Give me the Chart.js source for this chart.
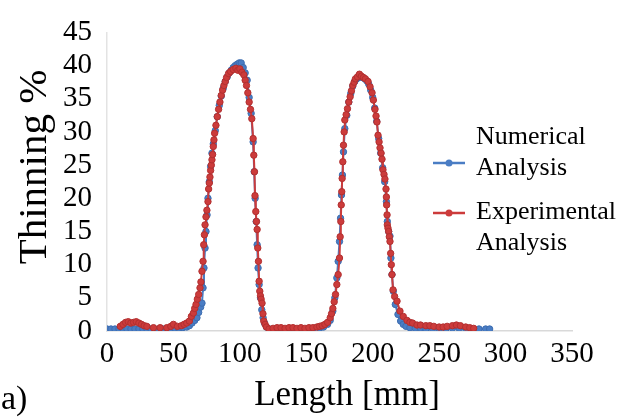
<!DOCTYPE html>
<html>
<head>
<meta charset="utf-8">
<script src="https://cdn.jsdelivr.net/npm/chart.js@4.4.1/dist/chart.umd.min.js"></script>
<style>
  html, body { margin: 0; padding: 0; background: #fff; }
  #wrap { position: relative; width: 618px; height: 418px; }
</style>
</head>
<body>
<div id="wrap"><canvas id="c" width="618" height="418"></canvas></div>
<script>
// Thinning profile along the part length
const numericalX = [0,3,6,9,12,15,18,21,24,27,30,33,36,39,42,45,48,51,54,57,60,62,64,66,67.7,69,70.5,71.5,72.3,73,73.8,74.5,75.3,76,77,78,79,80,81.5,83,84.5,86,87.5,89,90.5,92,93.5,95,96.5,98,99.5,101,102.5,104,105.5,107,108.5,110,110.8,111.5,112.3,113,113.7,114.5,115.5,116.5,117.5,118.5,120,122,125,130,135,140,145,150,155,160,163,166,168,170,171.5,173,174,175,175.8,176.5,177.2,178,179,180.5,182,183.5,185,186.5,188,189.5,191,192.5,194,195.5,197,198.5,200,201.5,203,204.5,206,207.5,209,210.3,211,212,213,213.7,214.5,215.5,217,219,221,223,225,228,232,236,240,245,250,255,260,265,270,275,280,285,288];
const numericalY = [0.3,0.3,0.3,0.3,0.3,0.3,0.3,0.3,0.3,0.3,0.3,0.3,0.3,0.3,0.3,0.3,0.3,0.4,0.4,0.5,0.6,0.8,1.2,1.6,2.0,2.8,3.6,4.2,6.5,9.5,12.5,15.0,17.5,20.0,22.5,24.8,26.8,28.2,30.2,32.3,34.0,35.4,36.6,37.6,38.3,38.9,39.3,39.7,40.0,40.2,40.4,40.4,39.7,38.9,37.8,35.2,32.8,28.5,24.0,20.0,16.5,13.0,9.5,7.0,5.0,3.2,2.0,1.2,0.6,0.3,0.2,0.2,0.2,0.2,0.2,0.2,0.3,0.4,0.6,1.0,1.6,3.0,5.0,8.0,10.5,13.5,17.0,20.5,23.5,27.0,30.5,32.5,34.5,35.8,36.9,37.6,38.0,38.2,38.3,38.2,38.0,37.7,37.2,36.3,35.2,33.6,31.6,29.0,26.8,24.6,22.5,19.5,16.5,15.0,14.3,11.0,8.5,6.0,4.0,2.5,1.5,1.0,0.7,0.5,0.4,0.4,0.3,0.3,0.3,0.3,0.4,0.4,0.3,0.3,0.3,0.3,0.3];

const experimentalX = [10,12,14,16,18,20,22,24,26,28,30,35,40,45,48,50,53,56,58,60,62,63.5,65,66,67,68,69,70,70.7,71.5,72.3,72.8,73.3,73.8,74.5,75.2,76,76.5,77,77.5,78,78.5,79,79.5,80,80.5,81,82,83,84,85,86,87,88,89,90,91.5,93,95,97,98.5,100,101.5,103,104,105,106,107,108,109,110,110.5,111,111.4,112,112.5,113,113.5,114,114.5,115,115.5,116,116.7,117.4,118,119,120,122,125,128,131,134,137,140,143,146,149,152,155,158,160,162,164,166,168,169,170,171,172,173,174,175,175.5,176,176.3,176.7,177,177.5,178,178.5,179,180,181,182,183,184,185,186,187,188.5,190,191.5,193,194.5,196.5,198,199.5,200.5,201.7,202.5,203.2,204,204.8,205.5,206.3,207,207.7,208.5,209.2,210,210.3,210.5,210.8,211,211.5,212,212.5,213,213.5,214,214.5,215.3,216.5,218.3,220.5,223,225.8,228,230,233.3,236,240,243,246,250,253,256,260,263,266,270,273,276];
const experimentalY = [0.7,1.0,1.3,1.4,1.2,1.3,1.4,1.2,1.0,0.8,0.7,0.5,0.5,0.5,0.7,1.0,0.7,0.8,1.0,1.2,1.5,2.2,2.7,3.4,4.0,4.8,5.5,6.5,7.4,9.0,10.5,13.0,14.5,16.0,17.2,18.2,19.5,21.4,22.3,23.2,24.2,25.0,25.8,26.6,27.8,28.8,29.8,31.0,32.3,33.4,34.5,35.5,36.3,37.0,37.6,38.2,38.8,39.1,39.4,39.6,39.3,39.5,39.0,38.6,37.8,37.0,35.9,34.5,33.4,32.0,29.0,26.5,24.0,20.4,18.0,16.5,15.3,12.5,10.5,7.5,6.0,5.3,4.8,4.2,2.6,1.5,1.0,0.6,0.3,0.4,0.5,0.5,0.4,0.5,0.5,0.4,0.5,0.4,0.5,0.5,0.6,0.7,0.8,1.0,1.3,2.0,2.6,3.4,4.4,5.5,7.0,8.5,11.0,14.2,16.5,19.0,21.0,23.0,25.5,28.0,30.0,31.8,32.6,33.5,34.5,35.3,36.2,37.0,37.5,38.0,38.3,38.7,38.4,38.2,38.0,37.6,36.8,35.9,34.8,33.4,32.4,31.5,29.5,28.5,27.6,26.8,25.9,24.3,23.6,22.9,21.4,20.2,19.0,17.5,16.0,15.5,15.0,14.2,13.5,11.7,10.0,8.5,6.2,5.2,4.5,3.0,2.2,1.6,1.3,1.2,0.9,0.9,0.8,0.8,0.7,0.6,0.6,0.7,0.8,0.9,0.8,0.6,0.5,0.4];

const xTicks = [0, 50, 100, 150, 200, 250, 300, 350];
const yTicks = [0, 5, 10, 15, 20, 25, 30, 35, 40, 45];
const seriesNames = [['Numerical', 'Analysis'], ['Experimental', 'Analysis']];
const xTitle = 'Length [mm]';
const yTitle = 'Thinning %';

const BLUE = '#4A7DC4';
const RED = '#CC3B3B';
const SERIF = '"Liberation Serif", "Times New Roman", serif';

function pairs(xs, ys) {
  return xs.map((x, i) => ({ x: x, y: ys[i] }));
}

// Legend over the right side of the plot, the axis titles and the panel tag
const sideLegend = {
  id: 'sideLegend',
  afterDraw(chart) {
    const ctx = chart.ctx;
    ctx.save();
    ctx.font = '26px ' + SERIF;
    ctx.fillStyle = '#000';
    ctx.textBaseline = 'middle';
    ctx.textAlign = 'left';
    const entries = [
      { color: BLUE, lines: seriesNames[0], textY: [137, 168], markY: 163 },
      { color: RED, lines: seriesNames[1], textY: [212, 243], markY: 213 }
    ];
    entries.forEach(e => {
      ctx.strokeStyle = e.color;
      ctx.lineWidth = 2.5;
      ctx.beginPath();
      ctx.moveTo(433, e.markY);
      ctx.lineTo(465, e.markY);
      ctx.stroke();
      ctx.beginPath();
      ctx.arc(449, e.markY, 3.5, 0, Math.PI * 2);
      ctx.fillStyle = e.color;
      ctx.fill();
      ctx.fillStyle = '#000';
      e.lines.forEach((t, i) => ctx.fillText(t, 476, e.textY[i]));
    });

    ctx.save();
    ctx.translate(35, 167);
    ctx.rotate(-Math.PI / 2);
    ctx.textAlign = 'center';
    ctx.font = '41px ' + SERIF;
    ctx.fillText(yTitle, 0, 0);
    ctx.restore();

    ctx.textAlign = 'center';
    ctx.textBaseline = 'alphabetic';
    ctx.font = '35px ' + SERIF;
    ctx.fillText(xTitle, 347, 405);

    ctx.textAlign = 'left';
    ctx.textBaseline = 'middle';
    ctx.font = '34px ' + SERIF;
    ctx.fillText('a)', 1, 400);
    ctx.restore();
  }
};

new Chart(document.getElementById('c'), {
  type: 'line',
  data: {
    datasets: [
      {
        label: 'Experimental Analysis',
        data: pairs(experimentalX, experimentalY),
        borderColor: RED,
        backgroundColor: RED,
        pointBackgroundColor: RED,
        pointBorderColor: '#B23030',
        pointBorderWidth: 1,
        pointRadius: 3.2,
        borderWidth: 2,
        tension: 0,
        order: 0
      },
      {
        label: 'Numerical Analysis',
        data: pairs(numericalX, numericalY),
        borderColor: BLUE,
        backgroundColor: BLUE,
        pointBackgroundColor: BLUE,
        pointBorderColor: '#3D6DB0',
        pointBorderWidth: 1,
        pointRadius: 3.2,
        borderWidth: 2,
        tension: 0,
        order: 1
      }
    ]
  },
  options: {
    responsive: false,
    animation: false,
    devicePixelRatio: 1,
    layout: { padding: { left: 0, right: 46, top: 20, bottom: 0 } },
    plugins: { legend: { display: false }, tooltip: { enabled: false } },
    scales: {
      x: {
        type: 'linear',
        min: 0,
        max: 350,
        afterBuildTicks(scale) { scale.ticks = xTicks.map(v => ({ value: v })); },
        afterFit(scale) { scale.height = 87; },
        grid: { display: false, drawTicks: false },
        border: { display: true, color: '#D9D9D9', width: 1.5 },
        ticks: { color: '#000', font: { family: SERIF, size: 29 }, padding: 6, maxRotation: 0, autoSkip: false }
      },
      y: {
        min: 0,
        max: 45,
        afterBuildTicks(scale) { scale.ticks = yTicks.map(v => ({ value: v })); },
        afterFit(scale) { scale.width = 107; },
        grid: { display: false, drawTicks: false },
        border: { display: true, color: '#E3E3E3', width: 1.5 },
        ticks: { color: '#000', font: { family: SERIF, size: 29 }, padding: 15, autoSkip: false }
      }
    }
  },
  plugins: [sideLegend]
});
</script>
</body>
</html>
